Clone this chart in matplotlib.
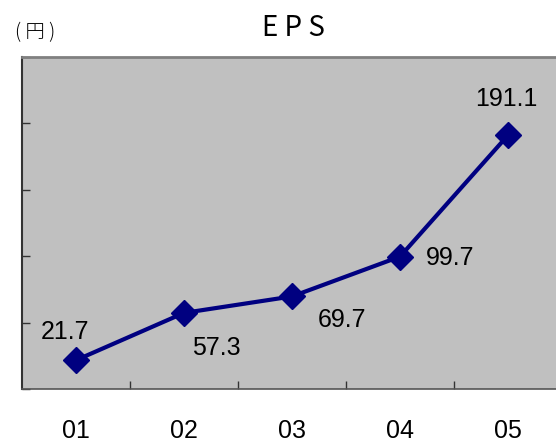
import matplotlib
matplotlib.use("Agg")
import matplotlib.pyplot as plt

# EPS推移
years = ["01", "02", "03", "04", "05"]
eps = [21.7, 57.3, 69.7, 99.7, 191.1]
# ラベルの置き場所 (x, y のオフセット, points)
label_offsets = [(-8, 20), (23, -25), (36, -17), (36, -1), (-1, 26)]

plt.rcParams['font.family'] = ['Liberation Sans', 'Noto Sans CJK JP', 'DejaVu Sans']

fig = plt.figure(figsize=(5.56, 4.44), dpi=100)
ax = fig.add_axes([22 / 556, 1 - 389 / 444, 540 / 556, 332 / 444])
ax.set_facecolor("#c0c0c0")

x = list(range(len(years)))
ax.plot(x, eps, color="#000080", lw=3, marker="D", markersize=13, zorder=3, clip_on=False)

for xi, v, (dx, dy) in zip(x, eps, label_offsets):
    ax.annotate(f"{v:.1f}", (xi, v), xytext=(dx, dy), textcoords="offset points",
                ha="center", va="center", fontsize=18, color="black")

ax.set_xlim(-0.5, 4.5)
ax.set_ylim(0, 250)
ax.set_yticks([0, 50, 100, 150, 200, 250])
ax.set_yticklabels([])
ax.set_xticks([0.5, 1.5, 2.5, 3.5])
ax.set_xticklabels([])
ax.tick_params(axis="both", direction="in", length=6, width=1, color="#333333")
for xi, yr in zip(x, years):
    ax.text(xi, -0.128, yr, transform=ax.get_xaxis_transform(), ha="center", va="center", fontsize=18)

ax.spines["left"].set_color("#333333")
ax.spines["left"].set_linewidth(1.5)
ax.spines["bottom"].set_color("#555555")
ax.spines["bottom"].set_linewidth(1.2)
ax.spines["top"].set_color("#808080")
ax.spines["top"].set_linewidth(2)
ax.spines["right"].set_visible(False)

fig.text(293 / 556, 1 - 28 / 444, "E P S", ha="center", va="center", fontsize=20,
         family=["Noto Sans CJK JP", "DejaVu Sans"])
fig.text(35 / 556, 1 - 33 / 444, "( 円 )", ha="center", va="center", fontsize=14,
         fontweight="light", family=["Noto Sans CJK JP", "DejaVu Sans"])

fig.savefig("out.png", dpi=100)
